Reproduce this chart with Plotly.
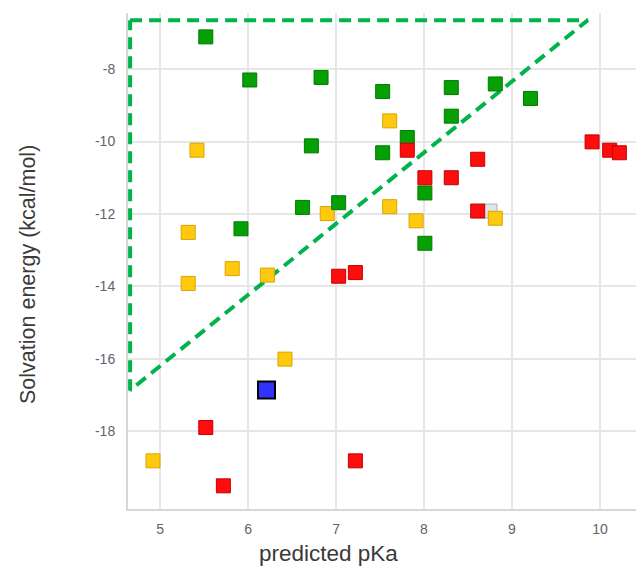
import plotly.graph_objects as go

green_x = [5.52, 6.02, 6.83, 6.72, 6.62, 5.92, 7.53, 8.31, 8.81, 9.21, 8.31, 7.81, 7.53, 8.01, 7.03, 8.01]
green_y = [-7.11, -8.30, -8.23, -10.12, -11.82, -12.41, -8.62, -8.51, -8.41, -8.81, -9.30, -9.89, -10.31, -11.42, -11.69, -12.81]

yellow_x = [5.42, 6.90, 5.32, 5.82, 6.22, 5.32, 7.61, 7.61, 7.91, 8.81, 6.42, 4.92]
yellow_y = [-10.24, -11.99, -12.51, -13.51, -13.69, -13.92, -9.43, -11.80, -12.19, -12.12, -16.01, -18.82]

red_x = [7.81, 9.91, 10.11, 10.22, 8.61, 8.01, 8.31, 8.61, 7.03, 7.22, 5.52, 5.72, 7.22]
red_y = [-10.24, -10.01, -10.24, -10.31, -10.49, -11.00, -11.00, -11.92, -13.72, -13.62, -17.90, -19.51, -18.82]

grey_x = [8.75]
grey_y = [-11.92]

blue_x = [6.21]
blue_y = [-16.86]

tri_x = [4.66, 9.86, 4.66, 4.66]
tri_y = [-6.65, -6.65, -16.87, -6.65]

x_ticks = [5, 6, 7, 8, 9, 10]
x_tick_text = ["5", "6", "7", "8", "9", "10"]
y_ticks = [-8, -10, -12, -14, -16, -18]
y_tick_text = ["-8", "-10", "-12", "-14", "-16", "-18"]

fig = go.Figure()

fig.add_trace(go.Scatter(x=tri_x, y=tri_y, mode="lines",
                         line=dict(color="#00b34a", width=4, dash="12px,7px"),
                         hoverinfo="skip"))


def sq(x, y, fill, border, size=14, bw=1):
    fig.add_trace(go.Scatter(x=x, y=y, mode="markers",
                             marker=dict(symbol="square", size=size, color=fill,
                                         line=dict(color=border, width=bw))))


sq(grey_x, grey_y, "#dfe5ea", "#a9b0b6")
sq(yellow_x, yellow_y, "#ffc90e", "#d9a400")
sq(green_x, green_y, "#04a004", "#037a03")
sq(red_x, red_y, "#ff0d0d", "#c40000")
sq(blue_x, blue_y, "#3232ff", "#000000", size=17, bw=2)

# page body has an 8px margin; figure is placed at (8, 8) in the window
OFF = 8
W, H = 644 - OFF, 569 - OFF
L, R, T, B = 128 - OFF, 0, 13 - OFF, 60
pw = W - L - R
ph = H - T - B


def px_to_paper(px, py):
    # px, py in window pixels
    return ((px - OFF - L) / pw, (H - B - (py - OFF)) / ph)


xt = px_to_paper(328, 553)
yt = px_to_paper(28, 275)

fig.update_layout(
    width=W, height=H,
    margin=dict(l=L, r=R, t=T, b=B),
    paper_bgcolor="white", plot_bgcolor="white",
    showlegend=False,
    font=dict(family="Liberation Sans, Arial, sans-serif"),
    annotations=[
        dict(text="predicted pKa", x=xt[0], y=xt[1], xref="paper", yref="paper",
             xanchor="center", yanchor="middle",
             showarrow=False, font=dict(size=22.5, color="#3a3a3a")),
        dict(text="Solvation energy (kcal/mol)", x=yt[0], y=yt[1], textangle=-90,
             xref="paper", yref="paper", xanchor="center", yanchor="middle",
             showarrow=False, font=dict(size=21.5, color="#3a3a3a")),
    ],
)

fig.update_xaxes(range=[4.636, 10.5], tickvals=x_ticks, ticktext=x_tick_text,
                 showgrid=True, gridcolor="#e6e6e6", gridwidth=1.5,
                 showline=True, linecolor="#d6d6d6", linewidth=2,
                 zeroline=False, ticks="", ticklabelstandoff=6,
                 tickfont=dict(size=14, color="#5d6470"))
fig.update_yaxes(range=[-20.15, -6.45], tickvals=y_ticks, ticktext=y_tick_text,
                 showgrid=True, gridcolor="#e6e6e6", gridwidth=1.5,
                 showline=True, linecolor="#d6d6d6", linewidth=2,
                 zeroline=False, ticks="", ticklabelstandoff=8,
                 tickfont=dict(size=14, color="#5d6470"))

fig.write_html("out.html")
